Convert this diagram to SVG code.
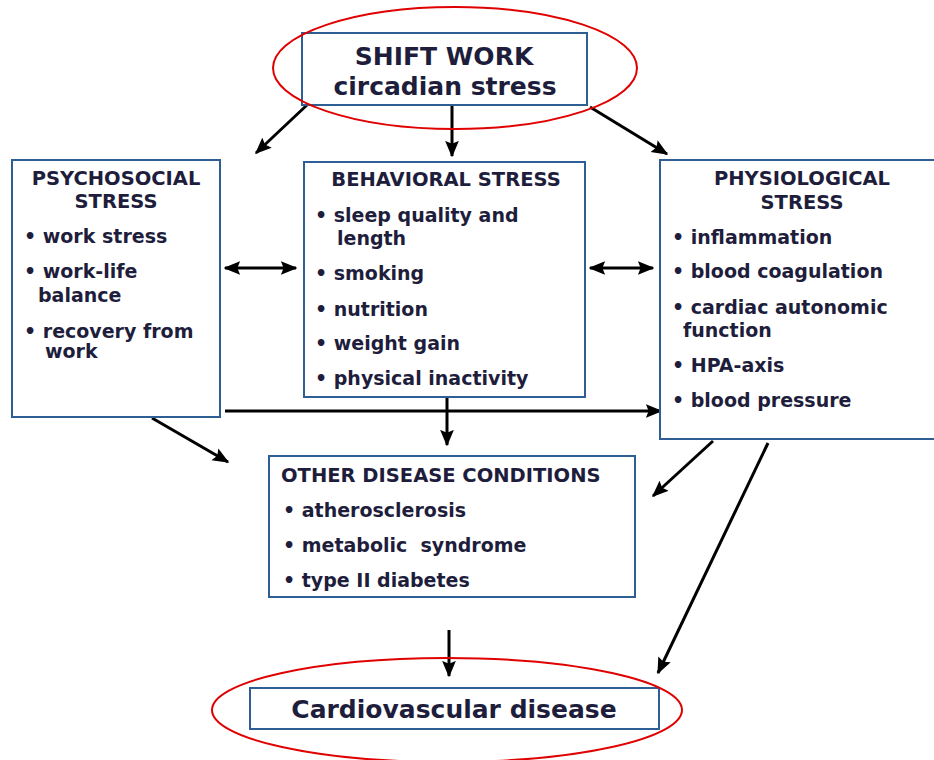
<svg xmlns="http://www.w3.org/2000/svg" width="934" height="760" viewBox="0 0 934 760">
<defs>
<style>
.box{fill:#ffffff;stroke:#2e5f94;stroke-width:2}
.t{font-family:"DejaVu Sans","Liberation Sans",sans-serif;font-weight:bold;fill:#1e1e3c;white-space:pre}
.h{font-size:19.5px}
.b{font-size:19px}
.big{font-size:25px}
.ring{fill:none;stroke:#e00000;stroke-width:2}
.c{fill:none;stroke:#000;stroke-width:3}
</style>
<marker id="ah" viewBox="0 0 12 10" refX="11" refY="5" markerWidth="5.5" markerHeight="5" orient="auto-start-reverse" markerUnits="strokeWidth">
<path d="M0,0 L12,5 L0,10 L2,5 z" fill="#000"/>
</marker>
</defs>
<rect width="934" height="760" fill="#ffffff"/>

<g id="connectors">
<line class="c" x1="307" y1="105" x2="256" y2="153" marker-end="url(#ah)"/>
<line class="c" x1="452" y1="105" x2="452" y2="156" marker-end="url(#ah)"/>
<line class="c" x1="590" y1="107" x2="667" y2="154" marker-end="url(#ah)"/>
<line class="c" x1="225" y1="268" x2="296" y2="268" marker-start="url(#ah)" marker-end="url(#ah)"/>
<line class="c" x1="590" y1="268" x2="653" y2="268" marker-start="url(#ah)" marker-end="url(#ah)"/>
<line class="c" x1="225" y1="411" x2="661" y2="411" marker-end="url(#ah)"/>
<line class="c" x1="447" y1="397" x2="447" y2="445" marker-end="url(#ah)"/>
<line class="c" x1="152" y1="418" x2="228" y2="462" marker-end="url(#ah)"/>
<line class="c" x1="713" y1="441" x2="653" y2="496" marker-end="url(#ah)"/>
<line class="c" x1="768" y1="443" x2="658" y2="673" marker-end="url(#ah)"/>
<line class="c" x1="449" y1="630" x2="449" y2="676" marker-end="url(#ah)"/>
</g>

<g id="shift-work">
<rect class="box" x="302" y="33" width="285" height="72"/>
<text class="t big" x="444" y="65" text-anchor="middle">SHIFT WORK</text>
<text class="t big" x="445" y="95" text-anchor="middle">circadian stress</text>
<ellipse class="ring" cx="455" cy="68" rx="182" ry="61"/>
</g>

<g id="psychosocial">
<rect class="box" x="12" y="160" width="208" height="257"/>
<text class="t h" x="116" y="185" text-anchor="middle">PSYCHOSOCIAL</text>
<text class="t h" x="116" y="208" text-anchor="middle">STRESS</text>
<text class="t b" x="24" y="243">• work stress</text>
<text class="t b" x="24" y="278">• work-life</text>
<text class="t b" x="38" y="302">balance</text>
<text class="t b" x="24" y="338">• recovery from</text>
<text class="t b" x="45" y="358">work</text>
</g>

<g id="behavioral">
<rect class="box" x="304" y="162" width="281" height="235"/>
<text class="t h" x="446" y="186" text-anchor="middle">BEHAVIORAL STRESS</text>
<text class="t b" x="315" y="222">• sleep quality and</text>
<text class="t b" x="337" y="245">length</text>
<text class="t b" x="315" y="280">• smoking</text>
<text class="t b" x="315" y="316">• nutrition</text>
<text class="t b" x="315" y="350">• weight gain</text>
<text class="t b" x="315" y="385">• physical inactivity</text>
</g>

<g id="physiological">
<rect class="box" x="660" y="160" width="280" height="279"/>
<text class="t h" x="802" y="185" text-anchor="middle">PHYSIOLOGICAL</text>
<text class="t h" x="802" y="209" text-anchor="middle">STRESS</text>
<text class="t b" x="672" y="244">• inflammation</text>
<text class="t b" x="672" y="278">• blood coagulation</text>
<text class="t b" x="672" y="314">• cardiac autonomic</text>
<text class="t b" x="683" y="337">function</text>
<text class="t b" x="672" y="372">• HPA-axis</text>
<text class="t b" x="672" y="407">• blood pressure</text>
</g>

<g id="other-disease">
<rect class="box" x="269" y="456" width="366" height="141"/>
<text class="t h" x="281" y="482">OTHER DISEASE CONDITIONS</text>
<text class="t b" x="283" y="517">• atherosclerosis</text>
<text class="t b" x="283" y="552" xml:space="preserve">• metabolic  syndrome</text>
<text class="t b" x="283" y="587">• type II diabetes</text>
</g>

<g id="cardiovascular">
<rect class="box" x="250" y="688" width="409" height="41"/>
<text class="t big" x="454" y="718" text-anchor="middle">Cardiovascular disease</text>
<ellipse class="ring" cx="447" cy="710" rx="235" ry="52"/>
</g>
</svg>
